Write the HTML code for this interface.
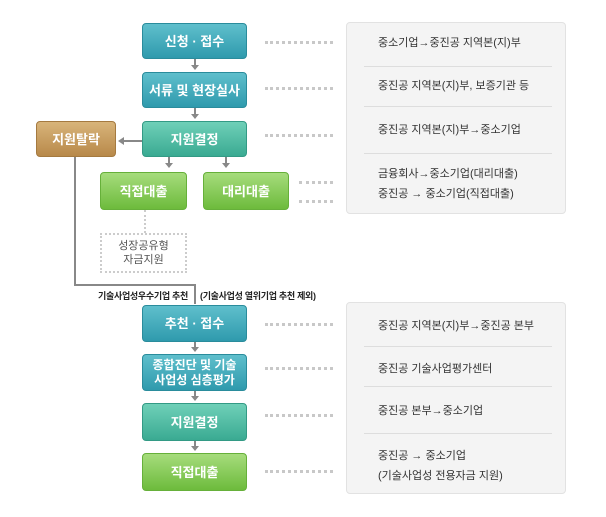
<!DOCTYPE html>
<html><head><meta charset="utf-8"><style>
body{margin:0;width:606px;height:517px;background:#fff;position:relative;overflow:hidden;font-family:"Liberation Sans","Noto Sans CJK KR",sans-serif}
.b{position:absolute;display:flex;align-items:center;justify-content:center;text-align:center;color:#fff;font-weight:bold;font-size:13px;border-radius:4px;box-sizing:border-box;line-height:17px}
.t{background:linear-gradient(#5fbfcc,#2f9aad);border:1px solid #2a8c9c}
.m{background:linear-gradient(#6fd0b8,#3aaa92);border:1px solid #339a85}
.g{background:linear-gradient(#a6dc7c,#6dbb3c);border:1px solid #66b03a}
.br{background:linear-gradient(#d8b47a,#b8894a);border:1px solid #a57a40}
.d{position:absolute;height:0;border-top:3px dotted #c8c8c8}
.l{position:absolute;background:#888}
.ar{position:absolute;width:0;height:0;border-left:4px solid transparent;border-right:4px solid transparent;border-top:5px solid #888}
.p{position:absolute;left:346px;width:220px;height:192px;background:#f4f4f4;border:1px solid #e2e2e2;border-radius:4px;box-sizing:border-box}
.hr{position:absolute;left:17px;right:13px;height:1px;background:#ddd}
.tx{position:absolute;left:31px;font-size:11px;color:#333;line-height:20px}
.lb{position:absolute;top:289px;font-size:9px;font-weight:bold;color:#222;white-space:nowrap;letter-spacing:-0.3px}
</style></head><body>
<div class="b t" style="left:142px;top:23px;width:105px;height:36px">신청 · 접수</div>
<div class="b t" style="left:142px;top:72px;width:105px;height:36px">서류 및 현장실사</div>
<div class="b m" style="left:142px;top:121px;width:105px;height:36px">지원결정</div>
<div class="b br" style="left:36px;top:121px;width:80px;height:36px">지원탈락</div>
<div class="b g" style="left:100px;top:172px;width:87px;height:38px">직접대출</div>
<div class="b g" style="left:203px;top:172px;width:86px;height:38px">대리대출</div>
<div style="position:absolute;left:100px;top:233px;width:87px;height:40px;border:2px dotted #ccc;box-sizing:border-box;display:flex;align-items:center;justify-content:center;text-align:center;font-size:11px;color:#555;line-height:14px">성장공유형<br>자금지원</div>
<div style="position:absolute;left:144px;top:210px;height:23px;border-left:2px dotted #ccc"></div>
<div class="l" style="left:194px;top:59px;width:2px;height:8px"></div><div class="ar" style="left:191px;top:65px"></div>
<div class="l" style="left:194px;top:108px;width:2px;height:8px"></div><div class="ar" style="left:191px;top:114px"></div>
<div class="l" style="left:124px;top:140px;width:18px;height:2px"></div>
<div style="position:absolute;left:118px;top:137px;border-top:4px solid transparent;border-bottom:4px solid transparent;border-right:6px solid #888"></div>
<div class="l" style="left:168px;top:157px;width:2px;height:8px"></div><div class="ar" style="left:165px;top:163px"></div>
<div class="l" style="left:225px;top:157px;width:2px;height:8px"></div><div class="ar" style="left:222px;top:163px"></div>
<div class="l" style="left:74px;top:157px;width:2px;height:129px"></div>
<div class="l" style="left:74px;top:284px;width:122px;height:2px"></div>
<div class="l" style="left:194px;top:284px;width:2px;height:20px"></div>
<div class="lb" style="left:98px">기술사업성우수기업 추천</div>
<div class="lb" style="left:200px">(기술사업성 열위기업 추천 제외)</div>
<div class="b t" style="left:142px;top:305px;width:105px;height:37px">추천 · 접수</div>
<div class="b t" style="left:142px;top:354px;width:105px;height:37px;font-size:12px;line-height:15px">종합진단 및 기술<br>사업성 심층평가</div>
<div class="b m" style="left:142px;top:403px;width:105px;height:38px">지원결정</div>
<div class="b g" style="left:142px;top:453px;width:105px;height:38px">직접대출</div>
<div class="l" style="left:194px;top:342px;width:2px;height:6px"></div><div class="ar" style="left:191px;top:347px"></div>
<div class="l" style="left:194px;top:391px;width:2px;height:6px"></div><div class="ar" style="left:191px;top:396px"></div>
<div class="l" style="left:194px;top:441px;width:2px;height:6px"></div><div class="ar" style="left:191px;top:446px"></div>
<div class="d" style="left:265px;top:41px;width:68px"></div>
<div class="d" style="left:265px;top:87px;width:68px"></div>
<div class="d" style="left:265px;top:134px;width:68px"></div>
<div class="d" style="left:299px;top:181px;width:34px"></div>
<div class="d" style="left:299px;top:200px;width:34px"></div>
<div class="d" style="left:265px;top:323px;width:68px"></div>
<div class="d" style="left:265px;top:367px;width:68px"></div>
<div class="d" style="left:265px;top:414px;width:68px"></div>
<div class="d" style="left:265px;top:470px;width:68px"></div>
<div class="p" style="top:22px">
<div class="tx" style="top:10px">중소기업→중진공 지역본(지)부</div>
<div class="hr" style="top:43px"></div>
<div class="tx" style="top:53px">중진공 지역본(지)부, 보증기관 등</div>
<div class="hr" style="top:83px"></div>
<div class="tx" style="top:97px">중진공 지역본(지)부→중소기업</div>
<div class="hr" style="top:130px"></div>
<div class="tx" style="top:141px">금융회사→중소기업(대리대출)<br>중진공 → 중소기업(직접대출)</div>
</div>
<div class="p" style="top:302px">
<div class="tx" style="top:13px">중진공 지역본(지)부→중진공 본부</div>
<div class="hr" style="top:43px"></div>
<div class="tx" style="top:56px">중진공 기술사업평가센터</div>
<div class="hr" style="top:83px"></div>
<div class="tx" style="top:98px">중진공 본부→중소기업</div>
<div class="hr" style="top:130px"></div>
<div class="tx" style="top:143px">중진공 → 중소기업<br>(기술사업성 전용자금 지원)</div>
</div>
</body></html>
